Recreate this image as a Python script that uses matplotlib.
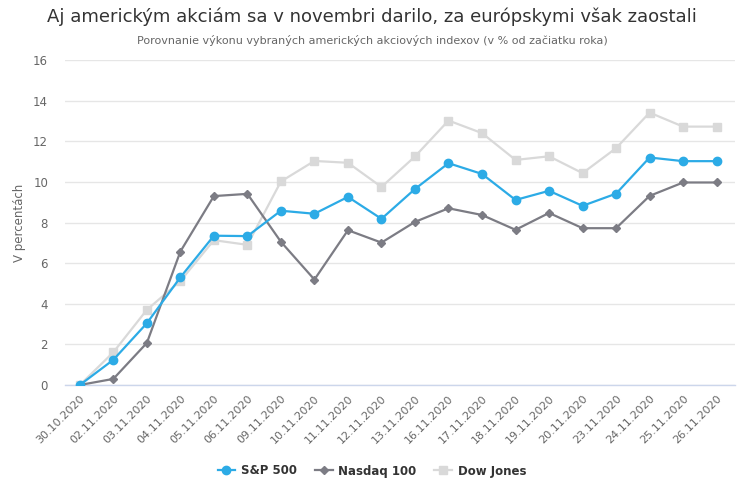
import numpy as np
import matplotlib.pyplot as plt

dates = ['30.10.2020', '02.11.2020', '03.11.2020', '04.11.2020', '05.11.2020',
         '06.11.2020', '09.11.2020', '10.11.2020', '11.11.2020', '12.11.2020',
         '13.11.2020', '16.11.2020', '17.11.2020', '18.11.2020', '19.11.2020',
         '20.11.2020', '23.11.2020', '24.11.2020', '25.11.2020', '26.11.2020']

sp500 = [0, 1.24, 3.04, 5.3, 7.35, 7.33, 8.58, 8.43, 9.26, 8.18,
         9.65, 10.92, 10.39, 9.11, 9.56, 8.82, 9.42, 11.2, 11.02, 11.02]
nasdaq = [0, 0.3, 2.07, 6.57, 9.3, 9.41, 7.05, 5.19, 7.62, 7.01,
          8.03, 8.7, 8.37, 7.64, 8.47, 7.72, 7.72, 9.31, 9.97, 9.97]
dow = [0, 1.61, 3.7, 5.12, 7.13, 6.9, 10.02, 11.03, 10.94, 9.75,
       11.25, 13.02, 12.4, 11.08, 11.26, 10.43, 11.66, 13.41, 12.72, 12.72]

series_names = ['S&P 500', 'Nasdaq 100', 'Dow Jones']

plt.rcParams['font.family'] = ['DejaVu Sans']

fig = plt.figure(figsize=(7.44, 5), dpi=100)
ax = fig.add_axes([0.087, 0.23, 0.901, 0.65])

x = np.arange(len(dates))
ax.plot(x, dow, color='#d9d9d9', linewidth=1.6, marker='s', markersize=6,
        label=series_names[2], zorder=3)
ax.plot(x, nasdaq, color='#7c7c84', linewidth=1.6, marker='D', markersize=4.5,
        label=series_names[1], zorder=4)
ax.plot(x, sp500, color='#2cabe6', linewidth=1.6, marker='o', markersize=6,
        label=series_names[0], zorder=5)

ax.set_xlim(-0.45, 19.55)
ax.set_ylim(0, 16)
ax.set_yticks(range(0, 17, 2))
ax.set_xticks(x)
ax.set_xticklabels(dates, rotation=45, ha='right', rotation_mode='anchor')
ax.tick_params(axis='x', length=0, labelsize=8, colors='#666666', pad=6)
ax.tick_params(axis='y', length=0, labelsize=8.5, colors='#666666', pad=12)
ax.grid(axis='y', color='#e6e6e6', linewidth=1)
ax.set_axisbelow(True)
for side in ['top', 'left', 'right']:
    ax.spines[side].set_visible(False)
ax.spines['bottom'].set(color='#ccd6eb', linewidth=1)
ax.set_ylabel('V percentách', fontsize=8.5, color='#666666', labelpad=5)

fig.text(0.5, 0.967, 'Aj americkým akciám sa v novembri darilo, za európskymi však zaostali',
         ha='center', va='center', fontsize=13, color='#333333')
fig.text(0.5, 0.92, 'Porovnanie výkonu vybraných amerických akciových indexov (v % od začiatku roka)',
         ha='center', va='center', fontsize=8, color='#666666')

handles, labels = ax.get_legend_handles_labels()
order = [2, 1, 0]
leg = fig.legend([handles[i] for i in order], [labels[i] for i in order],
                 loc='center', bbox_to_anchor=(0.5, 0.058), ncol=3, frameon=False,
                 fontsize=8.5, handlelength=1.5, columnspacing=1.5, handletextpad=0.5)
for t in leg.get_texts():
    t.set_fontweight('bold')
    t.set_color('#333333')

fig.savefig('out.png', dpi=100)
